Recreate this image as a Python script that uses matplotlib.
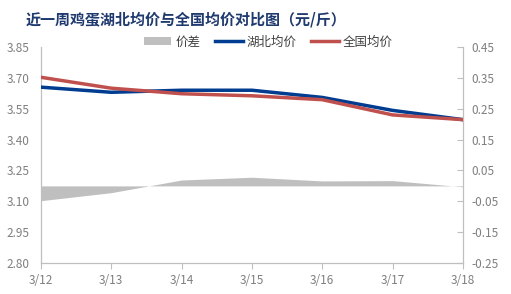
import numpy as np
import matplotlib.pyplot as plt

plt.rcParams['font.family'] = ['Noto Sans CJK SC', 'DejaVu Sans']

dates = ['3/12', '3/13', '3/14', '3/15', '3/16', '3/17', '3/18']
hubei = [3.655, 3.630, 3.640, 3.640, 3.605, 3.542, 3.497]
national = [3.703, 3.650, 3.623, 3.613, 3.594, 3.520, 3.497]
spread = [-0.048, -0.022, 0.019, 0.028, 0.016, 0.017, -0.003]

blue = '#003C8F'
red = '#C0504D'
gray = '#BFBFBF'
tick_color = '#7F7F7F'

fig = plt.figure(figsize=(5.11, 2.94), dpi=100)
ax = fig.add_axes([0.080, 0.1054, 0.826, 0.7346])
ax2 = ax.twinx()

x = np.arange(len(dates))
ax2.fill_between(x, 0, spread, color=gray, lw=0, label='价差')
ax.plot(x, hubei, color=blue, lw=2.5, label='湖北均价', zorder=3)
ax.plot(x, national, color=red, lw=2.5, label='全国均价', zorder=3)
ax.set_zorder(ax2.get_zorder() + 1)
ax.patch.set_visible(False)

ax.set_xlim(0, 6)
ax.set_ylim(2.80, 3.85)
ax.set_yticks(np.arange(2.80, 3.86, 0.15))
ax.set_yticklabels(['%.2f' % v for v in np.arange(2.80, 3.86, 0.15)])
ax2.set_ylim(-0.25, 0.45)
ax2.set_yticks(np.arange(-0.25, 0.46, 0.10))
ax2.set_yticklabels(['%.2f' % v for v in np.arange(-0.25, 0.46, 0.10)])
ax.set_xticks(x)
ax.set_xticklabels(dates)

for a in (ax, ax2):
    a.spines['top'].set_visible(False)
    for s in ('left', 'right', 'bottom'):
        a.spines[s].set_color('#BFBFBF')
ax.tick_params(axis='y', direction='in', length=0, colors=tick_color, labelsize=8.5, pad=8)
ax2.tick_params(axis='y', direction='in', length=4, color='#BFBFBF', labelcolor=tick_color, labelsize=8.5, pad=6)
ax.tick_params(axis='x', direction='out', length=4, color='#BFBFBF', labelcolor=tick_color, labelsize=8.5, pad=4)

fig.text(0.051, 0.935, '近一周鸡蛋湖北均价与全国均价对比图（元/斤）', fontsize=10.8,
         fontweight='bold', color='#1F3A6E', ha='left', va='center')

h2, l2 = ax2.get_legend_handles_labels()
h1, l1 = ax.get_legend_handles_labels()
fig.legend(h2 + h1, l2 + l1, loc='center', bbox_to_anchor=(0.525, 0.857), ncol=3,
           frameon=False, fontsize=9, handlelength=2.2, handleheight=0.6,
           columnspacing=1.2, handletextpad=0.3, labelcolor='#404040')

fig.savefig('out.png', dpi=100)
